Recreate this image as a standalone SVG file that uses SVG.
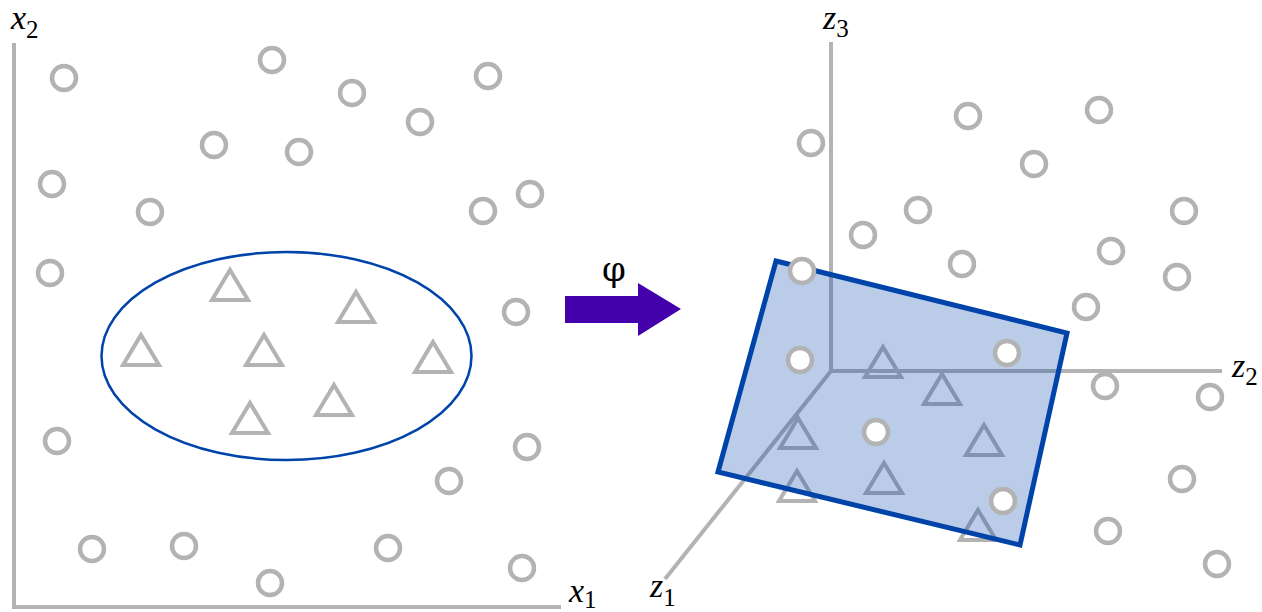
<svg xmlns="http://www.w3.org/2000/svg" xmlns:xlink="http://www.w3.org/1999/xlink" width="1262" height="612" viewBox="0 0 1262 612">
<style>
.axis{stroke:#b3b3b3;stroke-width:4;fill:none}
.pt{fill:#ffffff;stroke:#b3b3b3;stroke-width:4.5}
.tri{fill:none;stroke:#b3b3b3;stroke-width:4;stroke-linejoin:miter}
.lbl{font-style:italic;font-size:34px;fill:#000000}
.sub{font-style:normal;font-size:25px}
</style>
<defs>
<circle id="c" r="12" class="pt"/>
<path id="t" d="M0,-16 L18,14 L-18,14 Z" class="tri"/>
</defs>
<rect width="1262" height="612" fill="#ffffff"/>
<g id="left-axes">
<path class="axis" d="M14,43 V607 H561"/>
<text class="lbl" font-family="Liberation Serif, serif" x="11" y="29">x<tspan class="sub" dy="9">2</tspan></text>
<text class="lbl" font-family="Liberation Serif, serif" x="569" y="602">x<tspan class="sub" dy="6">1</tspan></text>
</g>
<g id="left-circles">
<use xlink:href="#c" x="64" y="78"/>
<use xlink:href="#c" x="272" y="60"/>
<use xlink:href="#c" x="352" y="93"/>
<use xlink:href="#c" x="488" y="76"/>
<use xlink:href="#c" x="420" y="122"/>
<use xlink:href="#c" x="214" y="145"/>
<use xlink:href="#c" x="299" y="152"/>
<use xlink:href="#c" x="52" y="184"/>
<use xlink:href="#c" x="150" y="212"/>
<use xlink:href="#c" x="483" y="211"/>
<use xlink:href="#c" x="530" y="194"/>
<use xlink:href="#c" x="50" y="273"/>
<use xlink:href="#c" x="516" y="312"/>
<use xlink:href="#c" x="57" y="441"/>
<use xlink:href="#c" x="527" y="447"/>
<use xlink:href="#c" x="449" y="481"/>
<use xlink:href="#c" x="92" y="549"/>
<use xlink:href="#c" x="184" y="546"/>
<use xlink:href="#c" x="388" y="548"/>
<use xlink:href="#c" x="270" y="583"/>
<use xlink:href="#c" x="522" y="568"/>
</g>
<g id="left-cluster">
<ellipse cx="286.5" cy="356" rx="185" ry="104" fill="none" stroke="#0044aa" stroke-width="2.5"/>
<use xlink:href="#t" x="230" y="286"/>
<use xlink:href="#t" x="356" y="308"/>
<use xlink:href="#t" x="141" y="351"/>
<use xlink:href="#t" x="264" y="351"/>
<use xlink:href="#t" x="433" y="358"/>
<use xlink:href="#t" x="334" y="401"/>
<use xlink:href="#t" x="250" y="419"/>
</g>
<g id="map-arrow">
<path d="M565,296 H638 V283 L681,309 L638,336 V323 H565 Z" fill="#4400aa"/>
<text x="614" y="281" text-anchor="middle" font-family="DejaVu Serif, serif" font-size="34">φ</text>
</g>
<g id="right-axes">
<path class="axis" d="M831,42 V371 H1222 M831,371 L665,579"/>
<text class="lbl" font-family="Liberation Serif, serif" x="823" y="29">z<tspan class="sub" dy="8">3</tspan></text>
<text class="lbl" font-family="Liberation Serif, serif" x="1232" y="377">z<tspan class="sub" dy="8">2</tspan></text>
<text class="lbl" font-family="Liberation Serif, serif" x="650" y="597">z<tspan class="sub" dy="9">1</tspan></text>
</g>
<g id="right-triangles">
<use xlink:href="#t" x="883" y="363"/>
<use xlink:href="#t" x="942" y="390"/>
<use xlink:href="#t" x="798" y="434"/>
<use xlink:href="#t" x="984" y="441"/>
<use xlink:href="#t" x="884" y="479"/>
<use xlink:href="#t" x="797" y="487"/>
<use xlink:href="#t" x="978" y="526"/>
</g>
<g id="right-circles">
<use xlink:href="#c" x="811" y="143"/>
<use xlink:href="#c" x="968" y="116"/>
<use xlink:href="#c" x="1099" y="110"/>
<use xlink:href="#c" x="1034" y="164"/>
<use xlink:href="#c" x="918" y="210"/>
<use xlink:href="#c" x="863" y="235"/>
<use xlink:href="#c" x="1184" y="211"/>
<use xlink:href="#c" x="1111" y="251"/>
<use xlink:href="#c" x="962" y="264"/>
<use xlink:href="#c" x="1177" y="277"/>
<use xlink:href="#c" x="1086" y="307"/>
<use xlink:href="#c" x="1105" y="386"/>
<use xlink:href="#c" x="1210" y="397"/>
<use xlink:href="#c" x="1182" y="479"/>
<use xlink:href="#c" x="1108" y="531"/>
<use xlink:href="#c" x="1217" y="564"/>
</g>
<g id="hyperplane">
<path d="M776,261 L1067,333 L1020,545 L718,472 Z" fill="#0044aa" fill-opacity="0.27" stroke="#0044aa" stroke-width="5" stroke-linejoin="miter"/>
</g>
<g id="plane-circles">
<use xlink:href="#c" x="802" y="271"/>
<use xlink:href="#c" x="800" y="360"/>
<use xlink:href="#c" x="1007" y="353"/>
<use xlink:href="#c" x="876" y="432"/>
<use xlink:href="#c" x="1003" y="501"/>
</g>
</svg>
